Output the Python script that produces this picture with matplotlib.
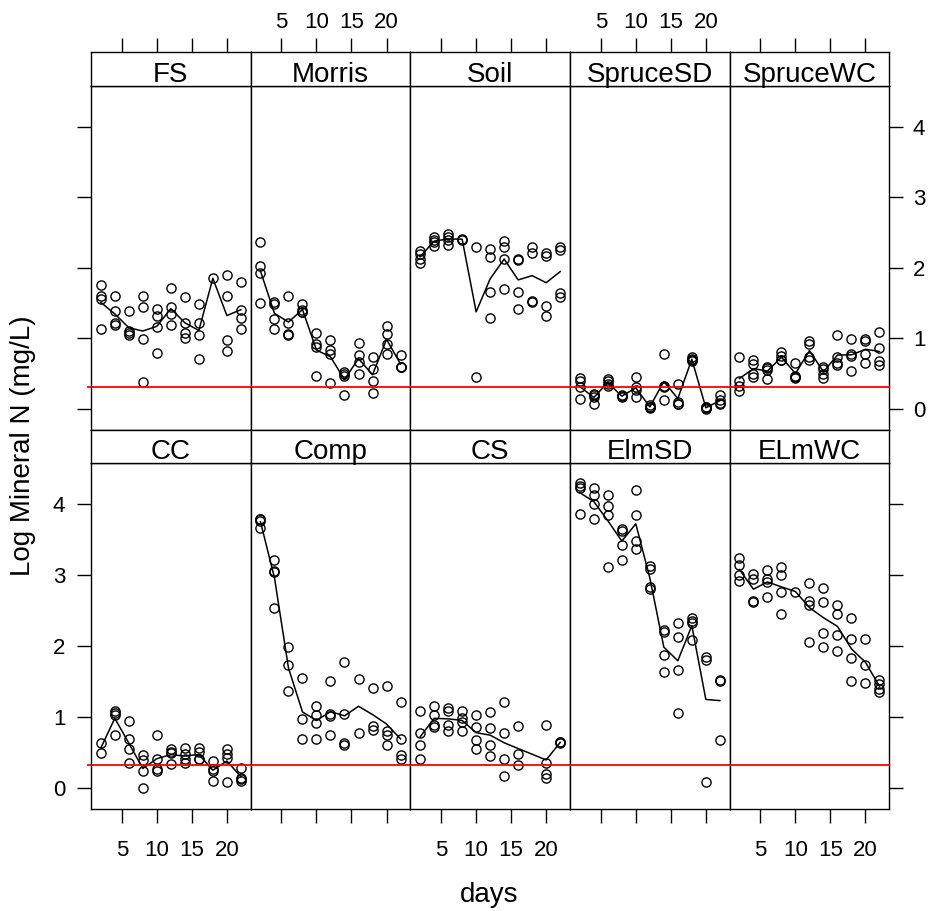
import matplotlib
matplotlib.use("Agg")
import matplotlib.pyplot as plt
import numpy as np

plt.rcParams['font.family'] = ['Liberation Sans', 'DejaVu Sans']

# ---------------- data ----------------
DAYS = [2, 4, 6, 8, 10, 12, 14, 16, 18, 20, 22]
X_TICKS = [5, 10, 15, 20]
Y_TICKS = [0, 1, 2, 3, 4]
REF_LEVEL = 0.315

TOP_ROW = ["FS", "Morris", "Soil", "SpruceSD", "SpruceWC"]
BOTTOM_ROW = ["CC", "Comp", "CS", "ElmSD", "ELmWC"]

FS = [[1.75, 1.60, 1.56, 1.13], [1.60, 1.38, 1.21, 1.19], [1.38, 1.10, 1.07, 1.05],
      [1.60, 1.44, 0.99, 0.38], [1.41, 1.32, 1.16, 0.79], [1.71, 1.44, 1.34, 1.19],
      [1.58, 1.21, 1.08, 1.01], [1.48, 1.21, 1.04, 0.71], [1.85],
      [1.90, 1.60, 0.97, 0.82], [1.80, 1.40, 1.29, 1.13]]
Morris = [[2.37, 2.02, 1.92, 1.50], [1.51, 1.49, 1.28, 1.13], [1.60, 1.21, 1.06, 1.05],
          [1.49, 1.40, 1.37, 1.37], [1.08, 0.92, 0.87, 0.46], [0.97, 0.83, 0.78, 0.37],
          [0.52, 0.49, 0.46, 0.19], [0.93, 0.76, 0.66, 0.50], [0.74, 0.57, 0.40, 0.22],
          [1.18, 1.06, 0.92, 0.78], [0.76, 0.60, 0.59, 0.59]]
Soil = [[2.24, 2.19, 2.12, 2.07], [2.44, 2.40, 2.36, 2.31], [2.48, 2.44, 2.39, 2.32],
        [2.41, 2.40], [2.30, 0.45], [2.27, 2.15, 1.66, 1.29], [2.38, 2.29, 2.12, 1.70],
        [2.13, 2.11, 1.66, 1.41], [2.30, 2.21, 1.53, 1.51], [2.21, 2.17, 1.46, 1.31],
        [2.30, 2.25, 1.64, 1.59]]
SpruceSD = [[0.43, 0.39, 0.31, 0.14], [0.21, 0.19, 0.17, 0.07], [0.42, 0.39, 0.35, 0.33],
            [0.19, 0.18, 0.17], [0.45, 0.31, 0.26, 0.17], [0.05, 0.03, 0.02, 0.01],
            [0.78, 0.33, 0.31, 0.13], [0.35, 0.09, 0.07, 0.07], [0.73, 0.71, 0.69, 0.68],
            [0.03, 0.02, 0.01, 0.00], [0.19, 0.12, 0.08, 0.07]]
SpruceWC = [[0.74, 0.40, 0.33, 0.25], [0.69, 0.64, 0.50, 0.45], [0.59, 0.58, 0.55, 0.42],
            [0.80, 0.75, 0.69, 0.69], [0.65, 0.47, 0.45, 0.43], [0.96, 0.92, 0.73, 0.69],
            [0.60, 0.57, 0.50, 0.43], [1.04, 0.74, 0.65, 0.62], [0.99, 0.78, 0.75, 0.54],
            [0.99, 0.96, 0.78, 0.65], [1.09, 0.86, 0.68, 0.62]]
CC = [[0.63, 0.49], [1.09, 1.06, 1.03, 0.74], [0.94, 0.69, 0.54, 0.35],
      [0.46, 0.39, 0.24, 0.00], [0.74, 0.40, 0.26, 0.24], [0.54, 0.51, 0.49, 0.33],
      [0.56, 0.47, 0.41, 0.35], [0.56, 0.51, 0.41, 0.40], [0.38, 0.27, 0.24, 0.10],
      [0.54, 0.47, 0.42, 0.08], [0.28, 0.14, 0.12, 0.09]]
Comp = [[3.80, 3.79, 3.77, 3.66], [3.22, 3.06, 3.04, 2.54], [1.98, 1.73, 1.36],
        [1.55, 0.97, 0.69], [1.16, 1.03, 0.92, 0.69], [1.51, 1.04, 1.01, 0.74],
        [1.78, 1.04, 0.63, 0.61], [1.53, 0.77], [1.41, 0.87, 0.82],
        [1.44, 0.80, 0.75, 0.61], [1.21, 0.69, 0.46, 0.40]]
CS = [[1.09, 0.77, 0.60, 0.41], [1.15, 1.02, 0.89, 0.86], [1.12, 1.08, 0.89, 0.80],
      [1.08, 0.99, 0.93, 0.80], [1.02, 0.86, 0.68, 0.55], [1.07, 0.85, 0.60, 0.45],
      [1.21, 0.77, 0.40, 0.16], [0.87, 0.47, 0.32], [],
      [0.89, 0.35, 0.19, 0.14], [0.65, 0.64, 0.63]]
ElmSD = [[4.30, 4.26, 4.23, 3.87], [4.23, 4.13, 4.00, 3.80], [4.13, 3.98, 3.85, 3.12],
         [3.65, 3.63, 3.43, 3.22], [4.20, 3.85, 3.48, 3.37], [3.13, 3.09, 2.83, 2.80],
         [2.23, 2.20, 1.88, 1.63], [2.33, 2.13, 1.66, 1.05], [2.39, 2.35, 2.33, 2.08],
         [1.85, 1.81, 0.08], [1.52, 1.50, 0.67]]
ELmWC = [[3.25, 3.14, 3.01, 2.92], [3.02, 2.94, 2.63, 2.62], [3.08, 2.94, 2.91, 2.69],
         [3.12, 3.00, 2.77, 2.45], [2.77], [2.89, 2.64, 2.58, 2.06],
         [2.82, 2.62, 2.18, 1.98], [2.58, 2.45, 2.15, 1.93], [2.40, 2.10, 1.83, 1.51],
         [2.10, 1.73, 1.48], [1.52, 1.46, 1.40, 1.35]]

PANELS = {"FS": FS, "Morris": Morris, "Soil": Soil, "SpruceSD": SpruceSD,
          "SpruceWC": SpruceWC, "CC": CC, "Comp": Comp, "CS": CS,
          "ElmSD": ElmSD, "ELmWC": ELmWC}

# ---------------- layout ----------------
W, H = 932, 911
fig = plt.figure(figsize=(W / 100, H / 100), dpi=100)

LEFT, RIGHT = 91.0, 889.3
COLW = (RIGHT - LEFT) / 5
ROWS = [  # (strip top, strip bottom/panel top, panel bottom) in px
    (51.7, 85.7, 430.0),
    (430.0, 463.3, 809.0),
]
XLIM = (0.6, 23.4)
YLIM = (-0.30, 4.58)
TICKLEN = 10
LW = 1.0
TICKSIZE = 16
STRIPSIZE = 20
LABELSIZE = 20


def fy(px):
    return 1 - px / H


for r, names in enumerate([TOP_ROW, BOTTOM_ROW]):
    st, sb, pb = ROWS[r]
    for c, name in enumerate(names):
        x0 = LEFT + c * COLW
        ax = fig.add_axes([x0 / W, fy(pb), COLW / W, (pb - sb) / H])
        sax = fig.add_axes([x0 / W, fy(sb), COLW / W, (sb - st) / H], sharex=ax)

        data = PANELS[name]
        xs, ys, mx, my = [], [], [], []
        for d, vals in zip(DAYS, data):
            for v in vals:
                xs.append(d)
                ys.append(v)
            if len(vals):
                mx.append(d)
                my.append(np.mean(vals))
        ax.plot(mx, my, color='black', lw=1.1, zorder=2)
        ax.plot(xs, ys, 'o', mfc='none', mec='black', ms=6.6, mew=1.0, zorder=3)
        x_start = -0.02 if c == 0 else 0.0
        ax.plot([x_start, 1], [REF_LEVEL, REF_LEVEL], color='red', lw=1.3,
                transform=ax.get_yaxis_transform(), clip_on=False, zorder=4)

        ax.set_xlim(*XLIM)
        ax.set_ylim(*YLIM)
        for sp in ax.spines.values():
            sp.set_linewidth(LW)
        for sp in sax.spines.values():
            sp.set_linewidth(LW)

        # y ticks
        ax.set_yticks(Y_TICKS)
        ax.tick_params(axis='y', direction='out', length=TICKLEN, width=LW,
                       labelsize=TICKSIZE,
                       left=(c == 0), labelleft=(c == 0 and r == 1),
                       right=(c == 4), labelright=(c == 4 and r == 0))
        if c == 0:
            ax.tick_params(axis='y', pad=8.5)
        if c == 4:
            ax.tick_params(axis='y', pad=7)

        # x ticks
        ax.set_xticks(X_TICKS)
        if r == 1:
            ax.tick_params(axis='x', direction='out', length=TICKLEN, width=LW,
                           labelsize=TICKSIZE, pad=12.5, bottom=True,
                           labelbottom=(c % 2 == 0), top=False, labeltop=False)
        else:
            ax.tick_params(axis='x', bottom=False, labelbottom=False,
                           top=False, labeltop=False)

        sax.set_ylim(0, 1)
        sax.set_yticks([])
        if r == 0:
            sax.tick_params(axis='x', direction='out', length=TICKLEN, width=LW,
                            labelsize=TICKSIZE, pad=3.5, top=True,
                            labeltop=(c % 2 == 1), bottom=False, labelbottom=False)
        else:
            sax.tick_params(axis='x', top=False, labeltop=False,
                            bottom=False, labelbottom=False)
        sax.text(0.5, 0.118, name, transform=sax.transAxes, ha='center',
                 va='baseline', fontsize=STRIPSIZE)

fig.text(23 / W, fy(446), "Log Mineral N (mg/L)", rotation=90,
         ha='center', va='center', fontsize=LABELSIZE)
fig.text(489 / W, fy(901.7), "days", ha='center', va='baseline', fontsize=LABELSIZE)

fig.savefig("out.png", dpi=100, facecolor='white')
